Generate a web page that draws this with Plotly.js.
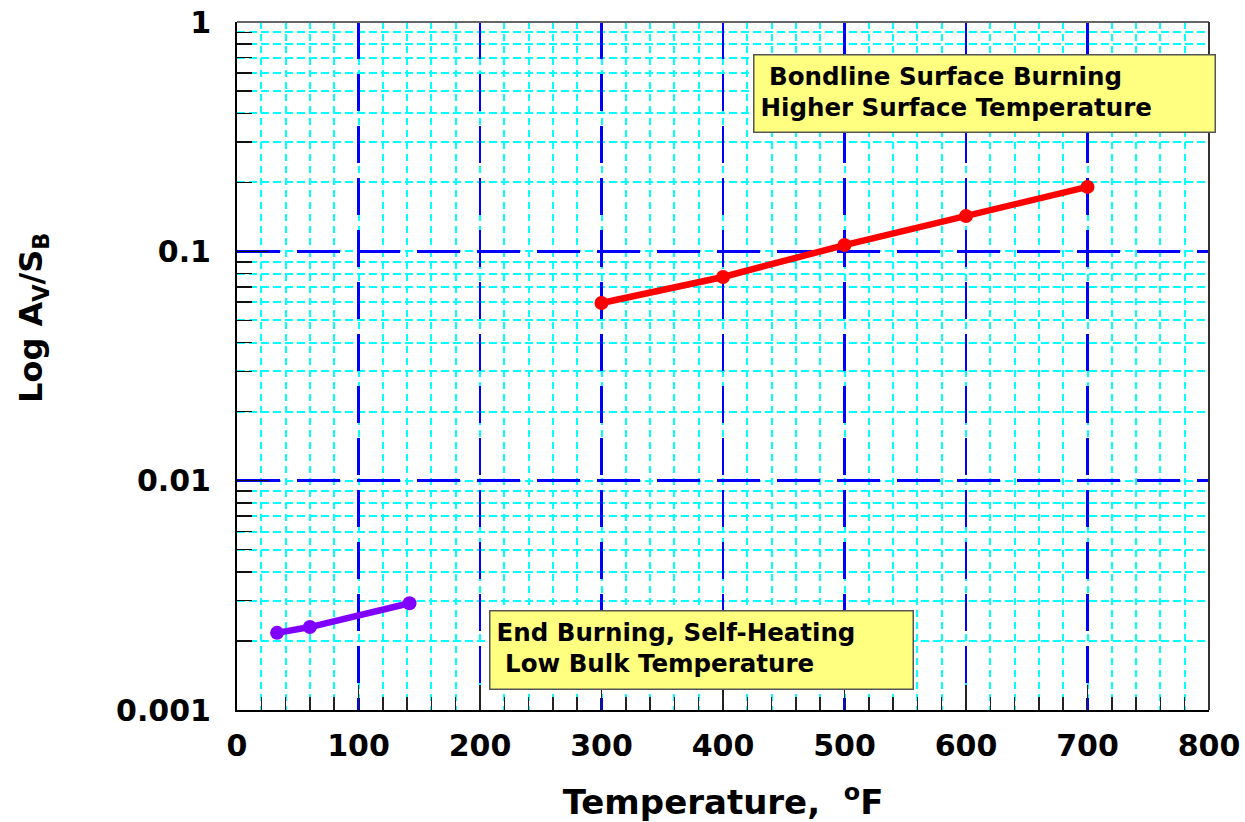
<!DOCTYPE html>
<html>
<head>
<meta charset="utf-8">
<script src="https://cdn.plot.ly/plotly-3.0.1.min.js"></script>
<style>html,body{margin:0;padding:0;background:#fff;}#chart{width:1245px;height:822px;}</style>
</head>
<body>
<div id="chart"></div>
<script>
// Data
const bondTemp = [300, 400, 500, 600, 700];
const bondRatio = [0.0595, 0.0773, 0.1065, 0.1425, 0.191];
const endTemp = [33, 60, 142];
const endRatio = [0.00217, 0.0023, 0.00292];

const yTickVals = [0.001, 0.01, 0.1, 1];
const yTickText = ['0.001', '0.01', '0.1', '1'];
const xTickVals = [0, 100, 200, 300, 400, 500, 600, 700, 800];
const xTickText = ['0', '100', '200', '300', '400', '500', '600', '700', '800'];

const boxTextTop = '\u00a0Bondline Surface Burning<br>Higher Surface Temperature';
const boxTextBottom = 'End Burning, Self-Heating<br>\u00a0Low Bulk Temperature';
const xTitle = 'Temperature,\u00a0\u00a0<sup>o</sup>F';
const yTitle = 'Log A<sub>V</sub>/S<sub>B</sub>';

const FONT = 'DejaVu Sans, Verdana, sans-serif';

const traces = [
  {
    x: bondTemp, y: bondRatio, type: 'scatter', mode: 'lines+markers',
    line: {color: '#ff0000', width: 6.5},
    marker: {color: '#ff0000', size: 14},
    showlegend: false, hoverinfo: 'x+y'
  },
  {
    x: endTemp, y: endRatio, type: 'scatter', mode: 'lines+markers',
    line: {color: '#8000ff', width: 6.5},
    marker: {color: '#8000ff', size: 14},
    showlegend: false, hoverinfo: 'x+y'
  }
];

const layout = {
  width: 1245, height: 822,
  margin: {l: 237, r: 36, t: 22, b: 112},
  paper_bgcolor: '#ffffff', plot_bgcolor: '#ffffff',
  showlegend: false,
  xaxis: {
    type: 'linear', range: [0, 800],
    tickmode: 'array', tickvals: xTickVals, ticktext: xTickText,
    showline: true, linecolor: '#000', linewidth: 2,
    ticks: 'inside', ticklen: 25, tickwidth: 1.5, tickcolor: '#222',
    ticklabelstandoff: 8,
    showgrid: true, gridcolor: '#0000ff', gridwidth: 2.5, griddash: '37px,15px',
    zeroline: false,
    tickfont: {family: FONT, size: 30, color: '#000', weight: 'bold'},
    minor: {
      dtick: 20, tick0: 0, ticks: 'inside', ticklen: 13, tickcolor: '#222', tickwidth: 1.5,
      showgrid: true, gridcolor: '#00ffff', gridwidth: 2, griddash: '7px,5px'
    },
    title: {text: xTitle, font: {family: FONT, size: 34, color: '#000', weight: 'bold'}, standoff: 28}
  },
  yaxis: {
    type: 'log', range: [-3, 0],
    tickmode: 'array', tickvals: yTickVals, ticktext: yTickText,
    showline: true, linecolor: '#000', linewidth: 2,
    ticks: 'inside', ticklen: 32, tickwidth: 1.5, tickcolor: '#111',
    ticklabelstandoff: 18,
    showgrid: true, gridcolor: '#0000ff', gridwidth: 2.5, griddash: '43px,17px',
    zeroline: false,
    tickfont: {family: FONT, size: 30, color: '#000', weight: 'bold'},
    minor: {
      dtick: 'D1', ticks: 'inside', ticklen: 15, tickcolor: '#111', tickwidth: 1.5,
      showgrid: true, gridcolor: '#00ffff', gridwidth: 2, griddash: '8px,4px'
    }
  },
  shapes: [
    {type: 'line', xref: 'paper', yref: 'paper', x0: 0, x1: 1, y0: 1, y1: 1, line: {color: '#666', width: 2}, layer: 'above'},
    {type: 'line', xref: 'paper', yref: 'paper', x0: 1, x1: 1, y0: 0, y1: 1, line: {color: '#333', width: 2}, layer: 'above'}
  ],
  annotations: [
    {
      xref: 'paper', yref: 'paper', x: 0.7695, y: 0.8968, xanchor: 'center', yanchor: 'middle',
      text: boxTextTop, showarrow: false, align: 'left', valign: 'top',
      width: 448, height: 64, borderpad: 6,
      bgcolor: '#ffff80', bordercolor: '#555', borderwidth: 1.5,
      font: {family: FONT, size: 24.5, color: '#000', weight: 'bold'}
    },
    {
      xref: 'paper', yref: 'paper', x: 0.478, y: 0.0872, xanchor: 'center', yanchor: 'middle',
      text: boxTextBottom, showarrow: false, align: 'left', valign: 'top',
      width: 410, height: 65, borderpad: 6,
      bgcolor: '#ffff80', bordercolor: '#555', borderwidth: 1.5,
      font: {family: FONT, size: 24.5, color: '#000', weight: 'bold'}
    },
    {
      xref: 'paper', yref: 'paper', x: -0.2099, y: 0.5698, xanchor: 'center', yanchor: 'middle',
      text: yTitle, showarrow: false, textangle: -90,
      font: {family: FONT, size: 32, color: '#000', weight: 'bold'}
    }
  ]
};

Plotly.newPlot('chart', traces, layout, {staticPlot: true, displayModeBar: false});
</script>
</body>
</html>
